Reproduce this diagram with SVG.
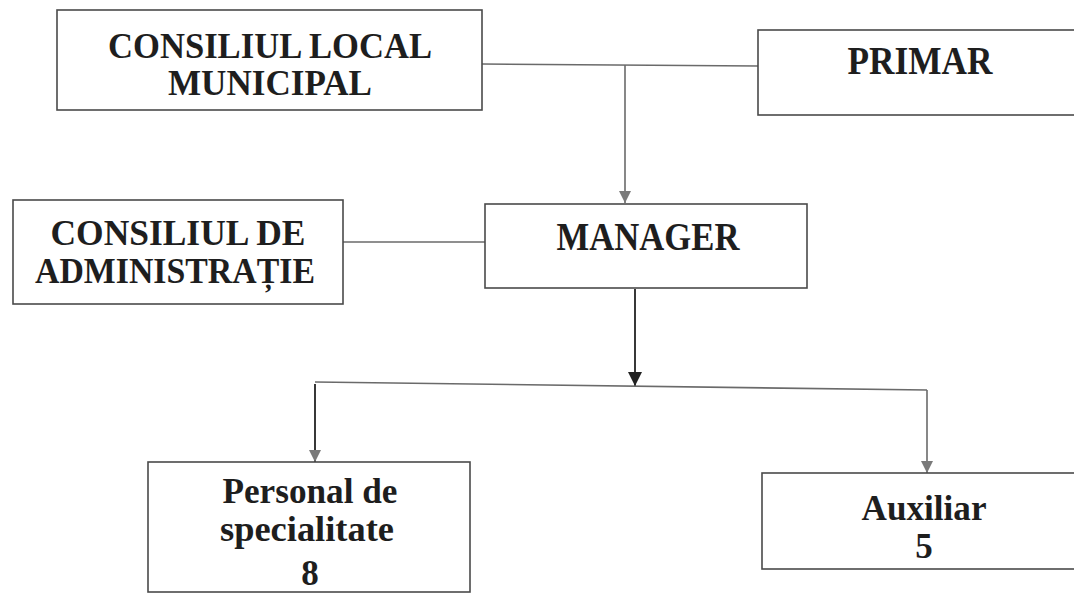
<svg xmlns="http://www.w3.org/2000/svg" width="1074" height="600" viewBox="0 0 1074 600">
  <style>
    .box { fill: #ffffff; stroke: #4a4a4a; stroke-width: 1.6; }
    .lbl { font-family: "Liberation Serif", "Times New Roman", serif; font-weight: bold; fill: #1e1e1e; text-anchor: middle; }
    .big { font-size: 39px; }
    .mid { font-size: 35px; }
    .conn { stroke: #6a6a6a; stroke-width: 1.6; fill: none; }
    .dark { stroke: #222222; stroke-width: 1.8; }
  </style>
  <defs>
    <marker id="arrG" viewBox="0 0 10 10" refX="10" refY="5" markerWidth="12" markerHeight="12" markerUnits="userSpaceOnUse" orient="auto">
      <path d="M0,0 L10,5 L0,10 Z" fill="#7a7a7a"/>
    </marker>
    <marker id="arrK" viewBox="0 0 10 10" refX="10" refY="5" markerWidth="14" markerHeight="14" markerUnits="userSpaceOnUse" orient="auto">
      <path d="M0,0 L10,5 L0,10 Z" fill="#222222"/>
    </marker>
  </defs>
  <rect x="0" y="0" width="1074" height="600" fill="#ffffff"/>

  <g id="connectors">
    <line class="conn" x1="482" y1="64" x2="758" y2="66"/>
    <line class="conn" x1="625" y1="65" x2="625" y2="203" marker-end="url(#arrG)"/>
    <line class="conn" x1="343" y1="242" x2="485" y2="242"/>
    <line class="conn dark" x1="635" y1="289" x2="635" y2="386" marker-end="url(#arrK)"/>
    <line class="conn" x1="315" y1="382" x2="927" y2="390"/>
    <line class="conn dark" x1="315" y1="384" x2="315" y2="462" marker-end="url(#arrG)"/>
    <line class="conn" x1="927" y1="390" x2="927" y2="473" marker-end="url(#arrG)"/>
  </g>

  <g id="consiliul-local">
    <rect class="box" x="57" y="10" width="425" height="100"/>
    <text class="lbl mid" x="270" y="58" textLength="324" lengthAdjust="spacingAndGlyphs">CONSILIUL LOCAL</text>
    <text class="lbl mid" x="270" y="95" textLength="204" lengthAdjust="spacingAndGlyphs">MUNICIPAL</text>
  </g>

  <g id="primar">
    <rect class="box" x="758" y="30" width="330" height="85"/>
    <text class="lbl big" x="920" y="74" textLength="145" lengthAdjust="spacingAndGlyphs">PRIMAR</text>
  </g>

  <g id="consiliul-administratie">
    <rect class="box" x="13" y="200" width="330" height="104"/>
    <text class="lbl mid" x="178" y="245" textLength="255" lengthAdjust="spacingAndGlyphs">CONSILIUL DE</text>
    <text class="lbl mid" x="175" y="283" textLength="280" lengthAdjust="spacingAndGlyphs">ADMINISTRAȚIE</text>
  </g>

  <g id="manager">
    <rect class="box" x="485" y="204" width="322" height="84"/>
    <text class="lbl big" x="648" y="250" textLength="183" lengthAdjust="spacingAndGlyphs">MANAGER</text>
  </g>

  <g id="personal-specialitate">
    <rect class="box" x="148" y="462" width="322" height="130"/>
    <text class="lbl mid" x="310" y="503" textLength="175" lengthAdjust="spacingAndGlyphs">Personal de</text>
    <text class="lbl mid" x="307" y="541" textLength="174" lengthAdjust="spacingAndGlyphs">specialitate</text>
    <text class="lbl mid" x="310" y="585">8</text>
  </g>

  <g id="auxiliar">
    <rect class="box" x="762" y="473" width="326" height="96"/>
    <text class="lbl mid" x="924" y="520" textLength="125" lengthAdjust="spacingAndGlyphs">Auxiliar</text>
    <text class="lbl mid" x="924" y="558">5</text>
  </g>
</svg>
